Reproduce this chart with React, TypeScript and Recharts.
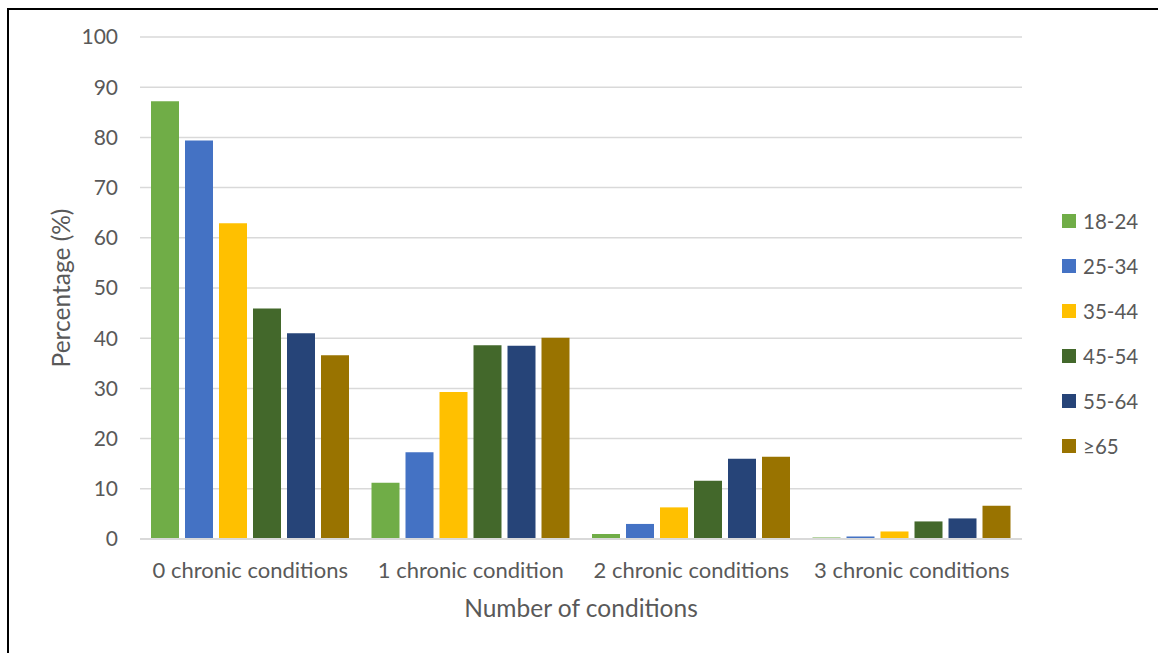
import React from 'react';
import { BarChart, Bar, XAxis, YAxis, CartesianGrid, Legend } from 'recharts';

const categories = ['0 chronic conditions', '1 chronic condition', '2 chronic conditions', '3 chronic conditions'];
const ageGroups = ['18-24', '25-34', '35-44', '45-54', '55-64', '≥65'];
const groupColors = ['#70AD47', '#4472C4', '#FFC000', '#43682B', '#264478', '#997300'];

const age18to24 = [87.2, 11.2, 1.0, 0.3];
const age25to34 = [79.4, 17.3, 3.0, 0.5];
const age35to44 = [62.9, 29.3, 6.3, 1.5];
const age45to54 = [45.9, 38.6, 11.6, 3.5];
const age55to64 = [41.0, 38.5, 16.0, 4.1];
const age65plus = [36.6, 40.1, 16.4, 6.6];

const yTicks = [0, 10, 20, 30, 40, 50, 60, 70, 80, 90, 100];

const seriesValues = [age18to24, age25to34, age35to44, age45to54, age55to64, age65plus];

const data = categories.map((name, i) => {
  const row: Record<string, string | number> = { name };
  ageGroups.forEach((g, j) => {
    row[g] = seriesValues[j][i];
  });
  return row;
});

const FONT = 'Lato, "Open Sans", sans-serif';
const TEXT = '#595959';

const LegendList = (props: any) => {
  const { payload } = props;
  return (
    <div style={{ fontFamily: FONT }}>
      {payload.map((entry: any) => (
        <div key={entry.value} style={{ display: 'flex', alignItems: 'center', height: 45 }}>
          <span style={{ width: 14, height: 14, background: entry.color, display: 'inline-block', marginRight: 7 }} />
          <span style={{ fontSize: 20.5, color: TEXT }}>{entry.value}</span>
        </div>
      ))}
    </div>
  );
};

const App: React.FC = () => {
  return (
    <div style={{ position: 'absolute', left: 0, top: 0, width: 1158, height: 653, background: '#fff', overflow: 'hidden' }}>
      <div style={{ position: 'absolute', left: 7, top: 8, width: 1160, height: 660, border: '2px solid #000', boxSizing: 'border-box' }} />
      <BarChart
        width={1158}
        height={653}
        data={data}
        margin={{ top: 37, right: 136, left: 0, bottom: 0 }}
        barCategoryGap={11}
        barGap={6}
      >
        <CartesianGrid vertical={false} stroke="#D9D9D9" strokeWidth={1.5} />
        <XAxis
          dataKey="name"
          height={114}
          axisLine={{ stroke: '#D9D9D9', strokeWidth: 2 }}
          tickLine={false}
          tickMargin={17}
          tick={{ fill: TEXT, fontSize: 22, fontFamily: FONT }}
          label={{ value: 'Number of conditions', position: 'insideBottom', offset: 36, fill: TEXT, fontSize: 24.5, fontFamily: FONT }}
        />
        <YAxis
          width={140}
          domain={[0, 100]}
          ticks={yTicks}
          axisLine={false}
          tickLine={false}
          tickMargin={16}
          tick={{ fill: TEXT, fontSize: 21, fontFamily: FONT }}
          label={{ value: 'Percentage (%)', angle: -90, position: 'center', dx: -9, fill: TEXT, fontSize: 24.5, fontFamily: FONT }}
        />
        <Legend
          layout="vertical"
          align="center"
          verticalAlign="middle"
          content={<LegendList />}
          wrapperStyle={{ left: 1062, top: 198, width: 96 }}
        />
        {ageGroups.map((g, j) => (
          <Bar key={g} dataKey={g} fill={groupColors[j]} isAnimationActive={false} />
        ))}
      </BarChart>
    </div>
  );
};

export default App;
